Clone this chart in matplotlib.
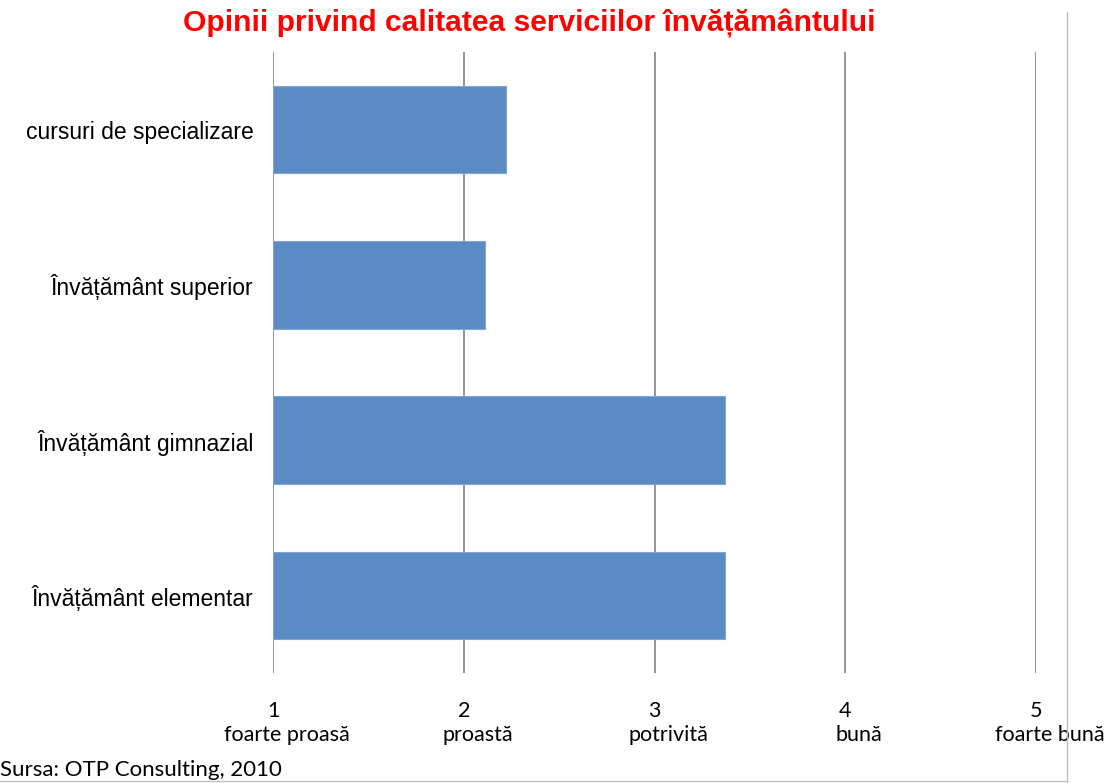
import matplotlib
matplotlib.use('Agg')
import matplotlib.pyplot as plt
from matplotlib.lines import Line2D

categories = ['Învățământ elementar', 'Învățământ gimnazial', 'Învățământ superior', 'cursuri de specializare']
values = [3.37, 3.37, 2.11, 2.22]
tick_vals = [1, 2, 3, 4, 5]
tick_desc = ['foarte proasă', 'proastă', 'potrivită', 'bună', 'foarte bună']

fig = plt.figure(figsize=(11.14, 7.83), dpi=100)
ax = fig.add_axes([273/1114, 1 - 673/783, (1036 - 273)/1114, (673 - 52)/783])

ypos = list(range(len(categories)))
ax.barh(ypos, [v - 1 for v in values], left=1, height=0.565, color='#5B8BC4',
        edgecolor='#7FA6D6', linewidth=0.8, zorder=3)

ax.set_xlim(1, 5)
ax.set_ylim(-0.5, 3.5)
ax.set_yticks(ypos)
ax.set_yticklabels(categories, fontsize=16.5, family='Liberation Sans')
ax.set_xticks(tick_vals)
ax.set_xticklabels([str(t) for t in tick_vals], fontsize=15.5, family='Lato')
ax.tick_params(axis='y', length=0, pad=14)
ax.tick_params(axis='x', length=0, pad=20)
ax.xaxis.grid(True, color='#8c8c8c', linewidth=1.3)
ax.set_axisbelow(True)
for s in ax.spines.values():
    s.set_visible(False)

# second line of the category labels (shifted a bit right, like in Excel)
for t, d in zip(tick_vals, tick_desc):
    ax.annotate(d, xy=(t, 0), xycoords=ax.get_xaxis_transform(),
                xytext=(14, -62), textcoords='offset pixels',
                ha='center', va='center', fontsize=15.5, family='Lato',
                annotation_clip=False)

fig.text(529/1114, 1 - 24/783, 'Opinii privind calitatea serviciilor învățământului',
         color='#FF0000', fontsize=21.6, fontweight='bold', family='Liberation Sans',
         ha='center', va='center')
fig.text(0, 1 - 770/783, 'Sursa: OTP Consulting, 2010', fontsize=16, family='Lato',
         ha='left', va='center')

# chart-area border on the right and bottom
fig.add_artist(Line2D([1067/1114, 1067/1114], [1 - 12/783, 0], color='#c0c0c0',
                      linewidth=1, transform=fig.transFigure))
fig.add_artist(Line2D([0, 1067/1114], [1 - 781/783, 1 - 781/783], color='#c0c0c0',
                      linewidth=1, transform=fig.transFigure))

fig.savefig('out.png', dpi=100)
